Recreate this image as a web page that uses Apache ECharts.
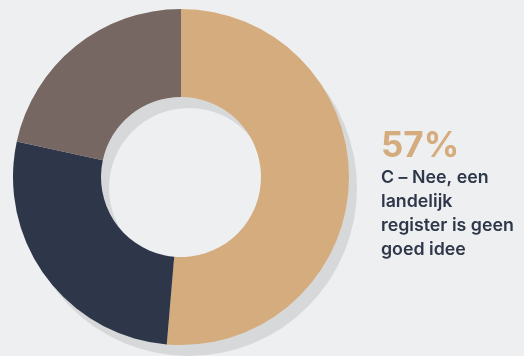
<!DOCTYPE html>
<html>
<head>
<meta charset="utf-8">
<script src="https://cdn.jsdelivr.net/npm/echarts@6/dist/echarts.min.js"></script>
<style>
  html, body { margin: 0; padding: 0; background: #eeeff1; }
  #chart { width: 524px; height: 356px; }
</style>
</head>
<body>
<div id="chart"></div>
<script>
// Answer shares (the first answer is highlighted next to the ring)
const categories = ['C – Nee, een landelijk register is geen goed idee', 'B', 'A'];
const values = [57, 30, 24];
const colors = ['#d5ac7e', '#2e3749', '#766762'];
const highlightLines = ['C – Nee, een', 'landelijk', 'register is geen', 'goed idee'];

const chart = echarts.init(document.getElementById('chart'), null, { renderer: 'canvas' });

const total = values.reduce((a, b) => a + b, 0);
const FONT = 'Inter, "Noto Sans", sans-serif';

const textEls = [
  {
    type: 'text',
    left: 381,
    top: 129,
    style: {
      text: values[0] + '%',
      font: '700 35px ' + FONT,
      fill: '#d5ac7e'
    }
  }
];
highlightLines.forEach((line, i) => {
  textEls.push({
    type: 'text',
    left: 381,
    top: 169 + i * 24,
    style: {
      text: line,
      font: '600 17.8px ' + FONT,
      fill: '#2e3749'
    }
  });
});

chart.setOption({
  backgroundColor: '#eeeff1',
  animation: false,
  series: [
    {
      // drop shadow ring behind the donut
      type: 'pie',
      silent: true,
      z: 1,
      center: [189, 188],
      radius: [80, 168],
      label: { show: false },
      labelLine: { show: false },
      itemStyle: { color: '#d6d8da' },
      data: [{ name: 'shadow', value: total }]
    },
    {
      type: 'pie',
      z: 2,
      center: [181, 177],
      radius: [80, 168],
      startAngle: 90,
      clockwise: true,
      label: { show: false },
      labelLine: { show: false },
      emphasis: { disabled: true },
      data: categories.map((c, i) => ({
        name: c,
        value: values[i],
        itemStyle: { color: colors[i] }
      }))
    }
  ],
  graphic: textEls
});
</script>
</body>
</html>
